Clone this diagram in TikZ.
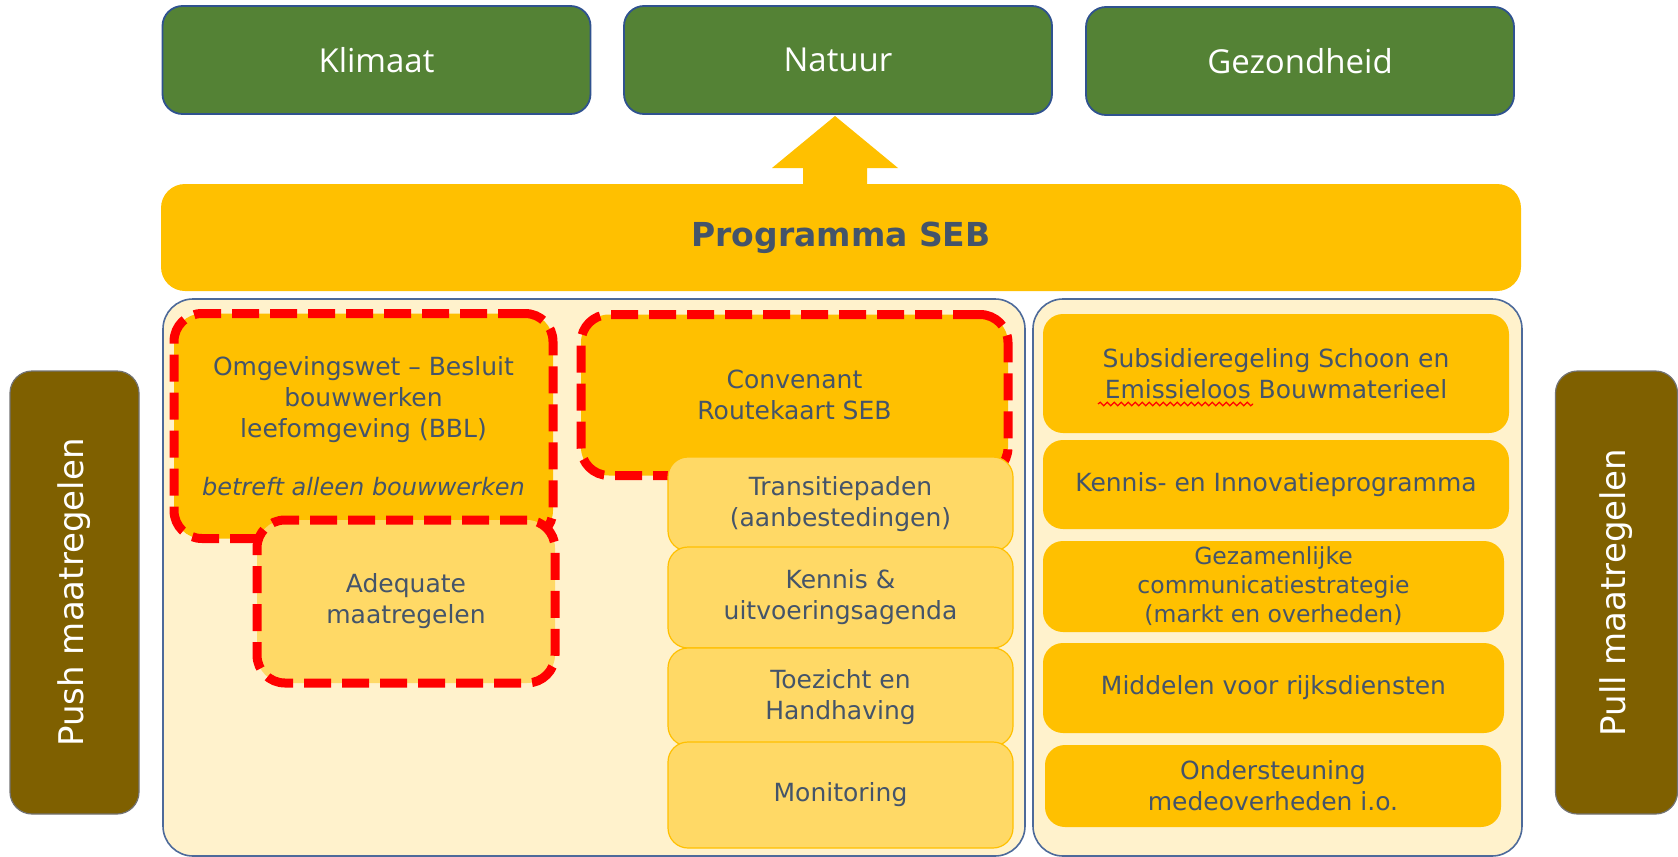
\documentclass[tikz,border=0pt]{standalone}
\usepackage{fontspec}
\setmainfont{DejaVu Sans}
\newfontfamily\headfont{Open Sans}
\usetikzlibrary{decorations.pathmorphing}

\definecolor{goalgreen}{HTML}{548235}
\definecolor{goalline}{HTML}{2F528F}
\definecolor{sebgold}{HTML}{FFC000}
\definecolor{sebpale}{HTML}{FFD966}
\definecolor{sebcream}{HTML}{FFF2CC}
\definecolor{panelline}{HTML}{4D6A9A}
\definecolor{slate}{HTML}{44546A}
\definecolor{sidebrown}{HTML}{7F6000}

\begin{document}
\begin{tikzpicture}[x=0.5pt, y=-0.5pt,
    goal/.style={draw=goalline, line width=0.9pt, fill=goalgreen, rounded corners=10pt,
        minimum width=214pt, minimum height=54pt, text=white,
        font=\headfont\fontsize{16.5}{20}\selectfont},
    panel/.style={draw=panelline, line width=0.8pt, fill=sebcream, rounded corners=15pt,
        minimum height=278.5pt},
    lawbox/.style={draw=red, line width=4.5pt, dash pattern=on 13.5pt off 5.5pt,
        rounded corners=14pt, text=slate, align=center,
        font=\fontsize{12.5}{15.5}\selectfont},
    stepbox/.style={draw=sebgold, line width=0.6pt, fill=sebpale, rounded corners=10pt,
        minimum width=172.5pt, inner ysep=1pt, text=slate, align=center,
        font=\fontsize{12.5}{15.5}\selectfont},
    pullbox/.style={fill=sebgold, rounded corners=10pt, inner ysep=1pt, text=slate,
        align=center, font=\fontsize{12.5}{15.5}\selectfont},
    side/.style={draw=black!55, line width=0.6pt, fill=sidebrown, rounded corners=11pt,
        minimum width=221.5pt, text=white, font=\fontsize{17}{20}\selectfont}
  ]
  \useasboundingbox (0,0) rectangle (1678,857);

  % goals on top
  \node[goal] (klimaat) at (376.5,60) {Klimaat};
  \node[goal] (natuur) at (838,60) {Natuur};
  \node[goal] (gezond) at (1300,61) {Gezondheid};

  % block arrow and programme bar
  \fill[sebgold] (803,190) -- (803,168) -- (772,168) -- (835,116) -- (898,168) -- (867,168) -- (867,190) -- cycle;
  \node[fill=sebgold, rounded corners=12pt, minimum width=680pt, minimum height=53.5pt,
        text=slate, font=\bfseries\fontsize{16.5}{20}\selectfont] (prog) at (841,237.5) {Programma SEB};

  % the two panels
  \node[panel, minimum width=431pt] (pushpanel) at (594,577.5) {};
  \node[panel, minimum width=244.5pt] (pullpanel) at (1277.5,577.5) {};

  % push measures
  \node[lawbox, fill=sebgold, minimum width=189.5pt, minimum height=112.5pt] (bbl) at (363.5,426)
      {Omgevingswet – Besluit\\bouwwerken\\leefomgeving (BBL)\\[13.5pt]
       {\itshape\fontsize{12}{15.5}\selectfont betreft alleen bouwwerken}};
  \node[lawbox, fill=sebpale, minimum width=149pt, minimum height=81.5pt] (adequaat) at (406,601.5)
      {Adequate\\maatregelen};
  \node[lawbox, fill=sebgold, minimum width=213.5pt, minimum height=80.5pt] (convenant) at (794.5,395)
      {Convenant\\Routekaart SEB};

  \node[stepbox, minimum height=47pt] (transitie) at (840.5,504) {Transitiepaden\\(aanbestedingen)};
  \node[stepbox, minimum height=50.5pt] (agenda) at (840.5,597.5) {Kennis \&\\uitvoeringsagenda};
  \node[stepbox, minimum height=49pt] (toezicht) at (840.5,697) {Toezicht en\\Handhaving};
  \node[stepbox, minimum height=53pt] (monitor) at (840.5,795) {Monitoring};

  % pull measures
  \node[pullbox, minimum width=233pt, minimum height=59.5pt] (subsidie) at (1276,373.5)
      {Subsidieregeling Schoon en\\Emissieloos Bouwmaterieel};
  \draw[red, line width=0.6pt, decorate, decoration={snake, amplitude=0.9pt, segment length=3.5pt}]
      (1098,404) -- (1253,404);
  \node[pullbox, minimum width=233pt, minimum height=44.5pt] (innovatie) at (1276,484.5)
      {Kennis- en Innovatieprogramma};
  \node[pullbox, minimum width=230.5pt, minimum height=45.5pt,
        font=\fontsize{11.75}{14.5}\selectfont] (communicatie) at (1273.5,586.5)
      {Gezamenlijke\\communicatiestrategie\\(markt en overheden)};
  \node[pullbox, minimum width=230.5pt, minimum height=45pt] (middelen) at (1273.5,688)
      {Middelen voor rijksdiensten};
  \node[pullbox, minimum width=228pt, minimum height=41pt] (medeoverheden) at (1273,786)
      {Ondersteuning\\medeoverheden i.o.};

  % side labels
  \node[side, rotate=90, minimum height=64.5pt] (push) at (74.5,592.5) {Push maatregelen};
  \node[side, rotate=90, minimum height=61pt] (pull) at (1616.5,592.5) {Pull maatregelen};
\end{tikzpicture}
\end{document}
